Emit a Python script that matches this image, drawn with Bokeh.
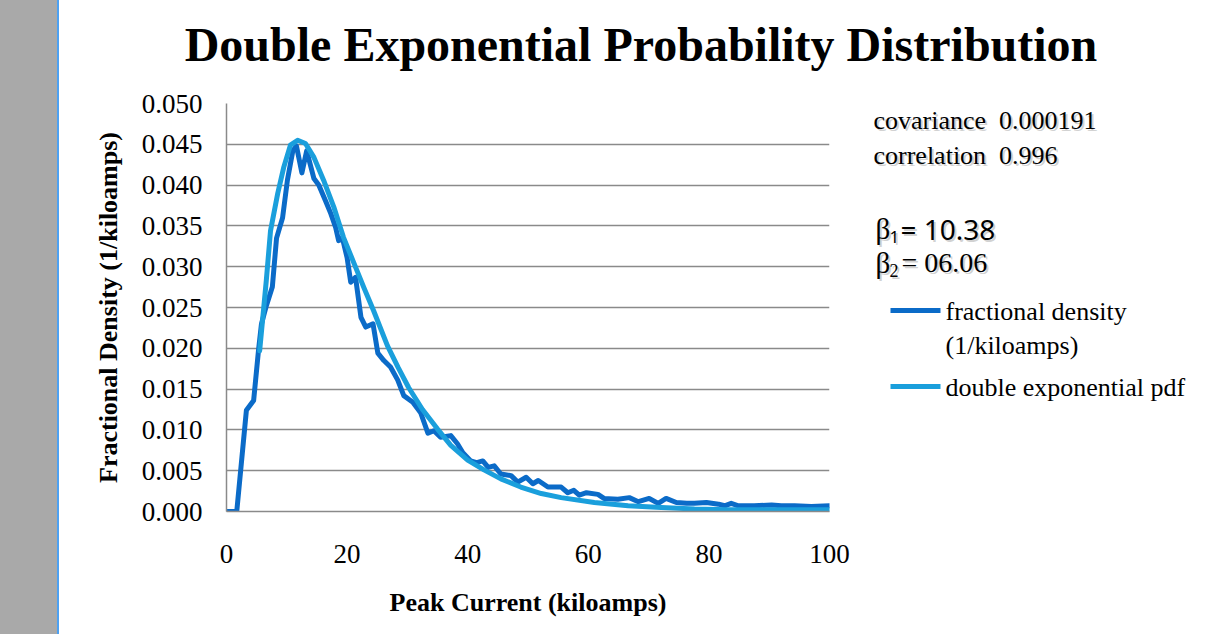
from bokeh.plotting import figure
from bokeh.models import Range1d, FixedTicker, Div
from bokeh.layouts import row, column
from bokeh.core.properties import value
from bokeh.embed import file_html
from bokeh.resources import INLINE

# ---------------- data ----------------
frac_x = [0, 1.7, 3.3, 4.5, 5.3, 5.8, 6.6, 7.6, 8.3, 9.3, 10.1, 11.0, 11.6, 12.5, 13.3,
          14.5, 15.3, 16.4, 17.3, 18.1, 18.6, 19.2, 20.0, 20.6, 21.4, 22.3, 23.1, 24.3,
          25.1, 26.1, 27.2, 28.4, 29.4, 30.9, 32.2, 33.4, 34.4, 35.5, 37.2, 38.3, 39.2,
          40.5, 41.5, 42.5, 43.4, 44.4, 45.5, 47.2, 48.3, 49.7, 50.8, 51.7, 53.3, 55.5,
          56.6, 57.6, 58.5, 59.7, 61.6, 62.6, 64.9, 66.8, 68.3, 70.1, 71.6, 72.9, 74.6,
          76.3, 77.6, 79.6, 81.6, 82.6, 83.7, 84.9, 87.5, 90.4, 92.0, 94.2, 97.0, 100]
frac_y = [0, 0, 0.0124, 0.0136, 0.0197, 0.023, 0.0252, 0.0275, 0.0335, 0.036, 0.0406,
          0.0442, 0.0448, 0.0415, 0.0442, 0.0408, 0.0400, 0.0381, 0.0365, 0.0348, 0.0332,
          0.0336, 0.0311, 0.0281, 0.0287, 0.0238, 0.0226, 0.0230, 0.0194, 0.0185, 0.0177,
          0.0161, 0.0142, 0.0134, 0.0121, 0.0096, 0.0099, 0.0091, 0.0093, 0.0083, 0.0072,
          0.0062, 0.0060, 0.0062, 0.0054, 0.0056, 0.0046, 0.0044, 0.0036, 0.0042, 0.0034,
          0.0038, 0.0030, 0.0030, 0.0023, 0.0026, 0.0020, 0.0023, 0.0021, 0.0016, 0.0015,
          0.0017, 0.0012, 0.0016, 0.0010, 0.0016, 0.0011, 0.0010, 0.0010, 0.0011, 0.0009,
          0.0007, 0.0010, 0.0007, 0.0007, 0.0008, 0.0007, 0.0007, 0.0006, 0.0007]

pdf_x = [5.5, 6.6, 7.3, 8.5, 9.5, 10.6, 11.8, 13.1, 14.5, 16.1, 17.8, 19.4, 21.1, 22.8,
         24.4, 26.7, 28.5, 30.2, 32.5, 35.0, 37.2, 40.0, 42.7, 45.5, 48.8, 52.2, 55.5,
         61.0, 66.6, 72.1, 77.6, 83.2, 90.0, 100]
pdf_y = [0.0197, 0.0283, 0.0344, 0.0390, 0.0422, 0.0449, 0.0455, 0.0451, 0.0434, 0.0406,
         0.0373, 0.0336, 0.0305, 0.0274, 0.0246, 0.0203, 0.0176, 0.0152, 0.0125, 0.0101,
         0.0081, 0.0063, 0.0051, 0.0040, 0.0030, 0.0022, 0.0017, 0.0011, 0.0007, 0.0005,
         0.0003, 0.0002, 0.0002, 0.0002]

x_ticks = [0, 20, 40, 60, 80, 100]
y_ticks = [0.000, 0.005, 0.010, 0.015, 0.020, 0.025, 0.030, 0.035, 0.040, 0.045, 0.050]
y_tick_labels = ["0.000", "0.005", "0.010", "0.015", "0.020", "0.025",
                 "0.030", "0.035", "0.040", "0.045", "0.050"]

title_text = "Double Exponential Probability Distribution"
x_title = "Peak Current (kiloamps)"
y_title = "Fractional Density (1/kiloamps)"
series_names = ["fractional density", "double exponential pdf"]
series_name_2nd_line = "(1/kiloamps)"
stats_lines = ["covariance\u00a0 0.000191", "correlation\u00a0 0.996"]
beta_values = ["= 10.38", "= 06.06"]

# ---------------- styling / layout (page pixels) ----------------
SERIF = "Liberation Serif"
SANS = "Noto Sans"
DARK = "#0b6bc8"
LIGHT = "#1a9fdc"
GRID = "#8a8a8a"

PAGE_W, PAGE_H = 1212, 634
BAND_W, EDGE_W = 57, 2
LEFT = BAND_W + EDGE_W            # 59
TITLE_H = 85
MAIN_W = 801                      # main chart figure: page x 59..860
RIGHT_W = PAGE_W - LEFT - MAIN_W  # side panel: page x 860..1212
BODY_H = PAGE_H - TITLE_H
FL, FR, FT, FB = 226, 829, 103, 511  # plot frame edges in page pixels


def blank_fig(w, h, x0, x1, ytop, ybottom):
    """A text-only canvas whose ranges are page pixel coordinates."""
    f = figure(width=w, height=h, output_backend="svg", toolbar_location=None,
               x_range=Range1d(x0, x1), y_range=Range1d(ybottom, ytop),
               min_border=0)
    f.axis.visible = False
    f.grid.visible = False
    f.outline_line_color = None
    f.background_fill_color = "white"
    f.border_fill_color = "white"
    return f


# ---- title ----
tf = blank_fig(PAGE_W - LEFT, TITLE_H, LEFT, PAGE_W, 0, TITLE_H)
tf.text(x=[640.5], y=[44], text=[title_text], text_font=value(SERIF),
        text_font_size="48px", text_font_style="bold", text_align="center",
        text_baseline="middle", text_color="black")

# ---- main chart ----
p = figure(width=MAIN_W, height=BODY_H, output_backend="svg", toolbar_location=None,
           x_range=Range1d(0, 100), y_range=Range1d(0, 0.05),
           min_border_left=FL - LEFT, min_border_right=LEFT + MAIN_W - FR,
           min_border_top=FT - TITLE_H, min_border_bottom=PAGE_H - FB)
p.outline_line_color = None
p.background_fill_color = "white"
p.border_fill_color = "white"

p.xgrid.visible = False
p.ygrid.grid_line_color = GRID
p.ygrid.grid_line_width = 1.5
p.ygrid.ticker = FixedTicker(ticks=y_ticks)

p.xaxis.ticker = FixedTicker(ticks=x_ticks)
p.yaxis.ticker = FixedTicker(ticks=y_ticks)
p.yaxis.major_label_overrides = {t: s for t, s in zip(y_ticks, y_tick_labels)}
for ax in (p.xaxis, p.yaxis):
    ax.axis_line_color = GRID
    ax.axis_line_width = 1.5
    ax.major_tick_line_color = None
    ax.minor_tick_line_color = None
    ax.major_label_text_font = SERIF
    ax.major_label_text_font_size = "27px"
    ax.major_label_text_color = "black"
    ax.axis_label_text_font = SERIF
    ax.axis_label_text_font_size = "26px"
    ax.axis_label_text_font_style = "bold"
    ax.axis_label_text_color = "black"
p.xaxis.axis_label = x_title
p.yaxis.axis_label = y_title
p.yaxis.major_label_standoff = 18
p.xaxis.major_label_standoff = 27
p.yaxis.axis_label_standoff = 16
p.xaxis.axis_label_standoff = 22

p.line(frac_x, frac_y, line_color=DARK, line_width=5, line_join="round", line_cap="round")
p.line(pdf_x, pdf_y, line_color=LIGHT, line_width=5, line_join="round", line_cap="round")

# ---- side panel: statistics and legend ----
# (its frame is aligned with the main chart's frame, page y FT..FB)
sf = blank_fig(RIGHT_W, BODY_H, LEFT + MAIN_W, PAGE_W, FT, FB)


def shadowed(x, y, text, font, size):
    sf.text(x=[x], y=[y], text=[text], text_font=value(font), text_font_size=size,
            text_baseline="middle", text_color="#9a9a9a", text_alpha=0.45,
            x_offset=2, y_offset=2)
    sf.text(x=[x], y=[y], text=[text], text_font=value(font), text_font_size=size,
            text_baseline="middle", text_color="black")


shadowed(873, 120, stats_lines[0], SERIF, "26px")
shadowed(873, 155, stats_lines[1], SERIF, "26px")

shadowed(875, 228, "\u03b2", SERIF, "29px")
shadowed(889, 236, "1", SANS, "17px")
shadowed(900, 228, beta_values[0], SANS, "28px")
shadowed(875, 262, "\u03b2", SERIF, "29px")
shadowed(889, 270, "2", SERIF, "18px")
shadowed(901, 262, beta_values[1], SERIF, "28px")

# legend entries
sf.line(x=[890, 940], y=[310, 310], line_color=DARK, line_width=5)
sf.text(x=[945], y=[311], text=[series_names[0]], text_font=value(SERIF),
        text_font_size="26px", text_baseline="middle", text_color="black")
sf.text(x=[945], y=[345], text=[series_name_2nd_line], text_font=value(SERIF),
        text_font_size="26px", text_baseline="middle", text_color="black")
sf.line(x=[890, 940], y=[386, 386], line_color=LIGHT, line_width=5)
sf.text(x=[945], y=[387], text=[series_names[1]], text_font=value(SERIF),
        text_font_size="26px", text_baseline="middle", text_color="black")

band = Div(text="", width=BAND_W, height=PAGE_H, margin=0,
           styles={"background-color": "#a9a9a9"})
edge = Div(text="", width=EDGE_W, height=PAGE_H, margin=0,
           styles={"background-color": "#4da1f2"})
body = column(tf, row(p, sf, spacing=0, margin=0), spacing=0, margin=0)
layout = row(band, edge, body, spacing=0, margin=0)

open("out.html", "w").write(file_html(layout, INLINE))
